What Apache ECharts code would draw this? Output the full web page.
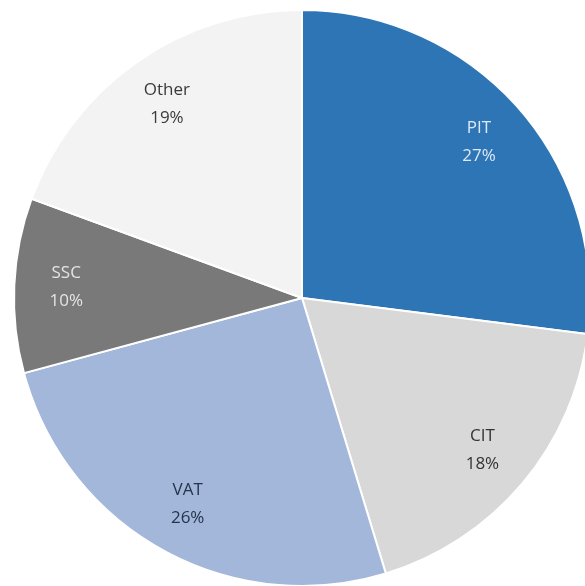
<!DOCTYPE html>
<html>
<head>
<meta charset="utf-8">
<script src="https://cdn.jsdelivr.net/npm/echarts@6/dist/echarts.min.js"></script>
<style>
html,body{margin:0;padding:0;background:#fff;}
#chart{width:585px;height:586px;}
</style>
</head>
<body>
<div id="chart"></div>
<script>
const categories = ['PIT', 'CIT', 'VAT', 'SSC', 'Other'];
const shares = [27.0, 18.3, 25.5, 9.8, 19.4];
const sliceColors = ['#2e75b6', '#d8d8d8', '#a2b7d9', '#797979', '#f3f3f3'];
const labelColors = ['#dde9f6', '#333333', '#26334d', '#e4e4e4', '#3a3a3a'];

const chart = echarts.init(document.getElementById('chart'), null, {renderer: 'canvas'});

const baseData = categories.map((c, i) => ({
  name: c,
  value: shares[i],
  itemStyle: {color: sliceColors[i]}
}));
const labelData = categories.map((c, i) => ({
  name: c,
  value: shares[i],
  label: {color: labelColors[i]}
}));

chart.setOption({
  backgroundColor: '#ffffff',
  animation: false,
  series: [
    {
      type: 'pie',
      center: [302, 298],
      radius: [0, 288],
      startAngle: 90,
      clockwise: true,
      silent: true,
      label: {show: false},
      labelLine: {show: false},
      itemStyle: {borderColor: '#ffffff', borderWidth: 2},
      data: baseData
    },
    {
      type: 'pie',
      center: [302, 298],
      radius: [178, 288],
      startAngle: 90,
      clockwise: true,
      silent: true,
      itemStyle: {color: 'rgba(0,0,0,0)', borderWidth: 0},
      labelLine: {show: false},
      label: {
        show: true,
        position: 'inside',
        fontFamily: '"Open Sans", sans-serif',
        fontSize: 17,
        lineHeight: 28,
        align: 'center',
        formatter: p => p.name + '\n' + Math.round(p.percent) + '%'
      },
      data: labelData
    }
  ]
});
</script>
</body>
</html>
